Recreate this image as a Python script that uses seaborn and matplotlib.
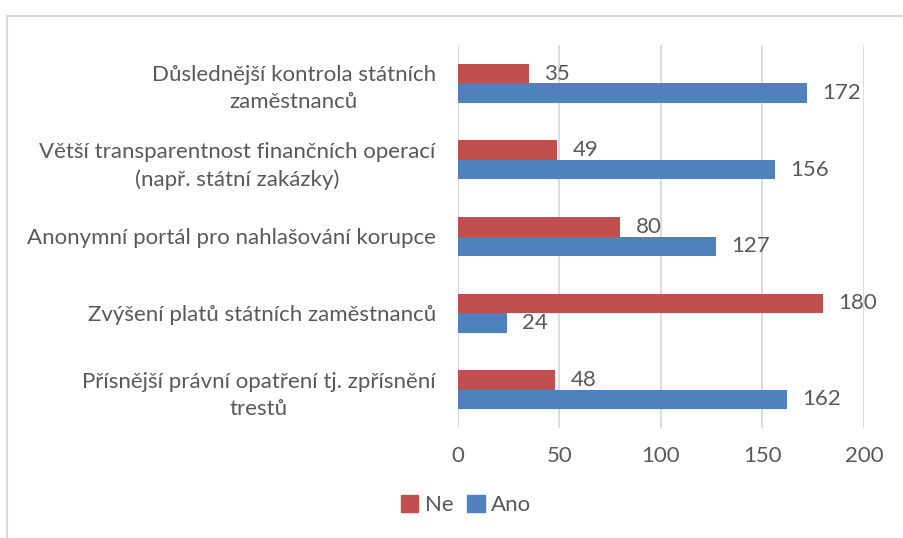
import pandas as pd
import seaborn as sns
import matplotlib.pyplot as plt
from matplotlib.lines import Line2D

# data
categories = [
    "Důslednější kontrola státních\nzaměstnanců",
    "Větší transparentnost finančních operací\n(např. státní zakázky)",
    "Anonymní portál pro nahlašování korupce",
    "Zvýšení platů státních zaměstnanců",
    "Přísnější právní opatření tj. zpřísnění\ntrestů",
]
ne_values = [35, 49, 80, 180, 48]
ano_values = [172, 156, 127, 24, 162]
series = ["Ne", "Ano"]
colors = ["#C0504D", "#4F81BD"]
xticks = [0, 50, 100, 150, 200]

df = pd.DataFrame({
    "Opatření": categories * 2,
    "Odpověď": ["Ne"] * len(categories) + ["Ano"] * len(categories),
    "Počet": ne_values + ano_values,
})

sns.set_theme(style="white")
plt.rcParams["font.family"] = ["Lato", "DejaVu Sans"]
text_color = "#595959"
grid_color = "#D9D9D9"
fs = 16

fig = plt.figure(figsize=(9.04, 5.38), dpi=100)
ax = fig.add_axes([458 / 904, 1 - 428 / 538, 406 / 904, 383 / 538])

sns.barplot(data=df, y="Opatření", x="Počet", hue="Odpověď", hue_order=series,
            palette=colors, orient="h", width=0.51, ax=ax, legend=False,
            saturation=1, linewidth=0)

for cont in ax.containers:
    ax.bar_label(cont, padding=11, fontsize=fs, color=text_color)

ax.set_xlim(0, 200)
ax.set_xticks(xticks)
ax.set_xlabel("")
ax.set_ylabel("")
ax.grid(axis="x", color=grid_color, linewidth=1.3)
ax.grid(axis="y", visible=False)
ax.set_axisbelow(True)
for s in ax.spines.values():
    s.set_visible(False)
ax.tick_params(axis="x", length=0, pad=13, labelsize=fs, labelcolor=text_color)
ax.tick_params(axis="y", length=0, pad=16, labelsize=fs, labelcolor=text_color)
for lbl in ax.get_yticklabels():
    lbl.set_multialignment("center")
    lbl.set_linespacing(1.45)

handles = [plt.Rectangle((0, 0), 1, 1, color=c) for c in colors]
fig.legend(handles, series, loc="center", bbox_to_anchor=(466 / 904, 1 - 505 / 538),
           ncol=2, frameon=False, fontsize=fs, labelcolor=text_color,
           handlelength=0.8, handleheight=0.8, handletextpad=0.3, columnspacing=0.6)

# outer chart border (cut at right and bottom)
fig.add_artist(Line2D([7 / 904, 1], [1 - 16 / 538] * 2, color=grid_color, linewidth=1.5))
fig.add_artist(Line2D([7 / 904] * 2, [0, 1 - 16 / 538], color=grid_color, linewidth=1.5))

fig.savefig("out.png", dpi=100)
